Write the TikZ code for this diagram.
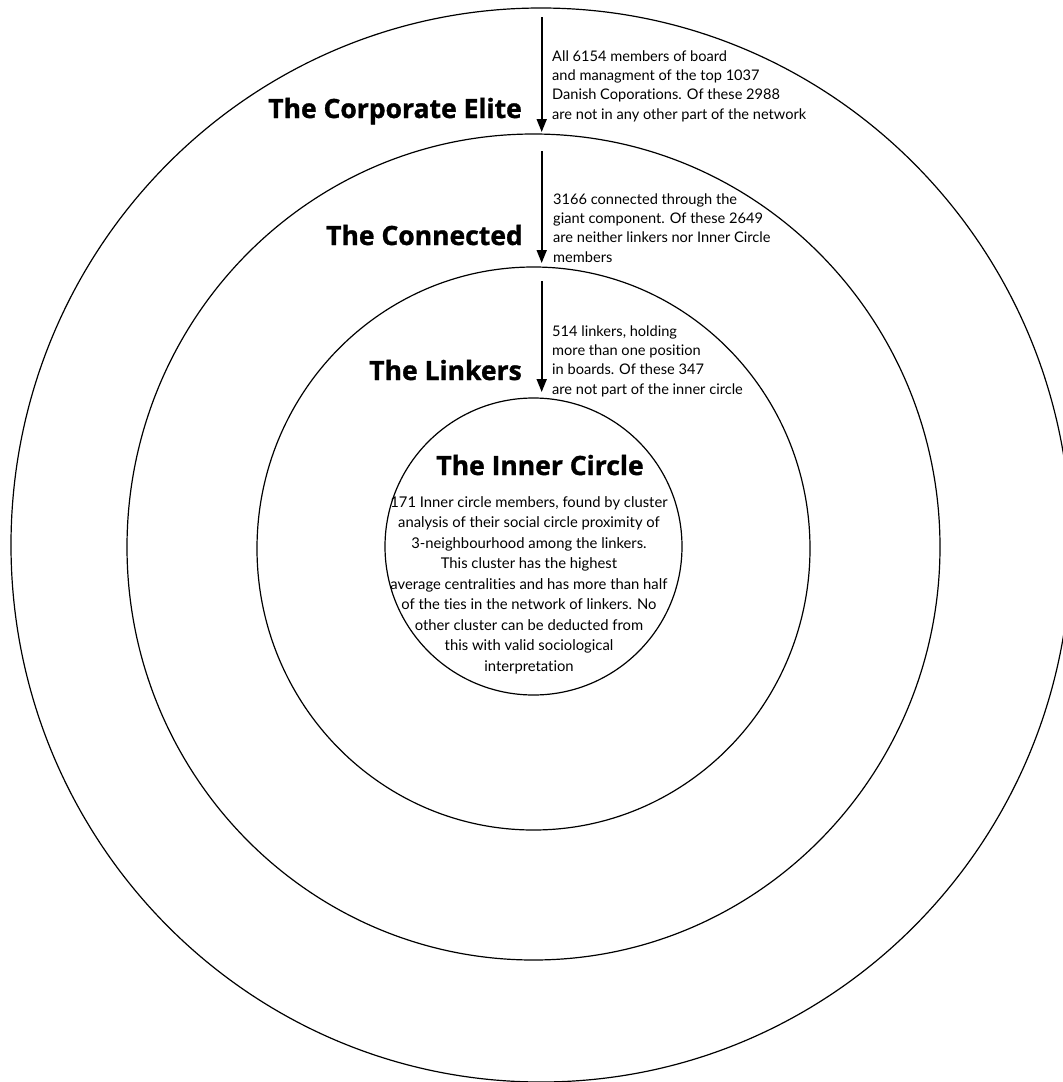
\documentclass[tikz,border=0pt]{standalone}
\usepackage{fontspec}
\setmainfont{Lato}[Ligatures=NoCommon]
\newfontfamily\titlefont{Open Sans}[BoldFeatures={FakeBold=1.2}]
\usepackage{tikz}
\usetikzlibrary{arrows.meta}

\begin{document}
\begin{tikzpicture}[x=1pt, y=-1pt,
	ring/.style={line width=1.2pt},
	flow/.style={line width=1.8pt, -{Triangle[length=13pt, width=10pt]}},
	ringtitle/.style={font=\titlefont\bfseries\fontsize{26.5}{30}\selectfont, inner sep=0pt},
	ringtext/.style={font=\fontsize{14.6}{19.2}\selectfont, align=left, inner sep=0pt},
	innertext/.style={font=\fontsize{14.8}{20.5}\selectfont, align=center, inner sep=0pt}]
	\useasboundingbox (0,0) rectangle (1063,1082);
	\clip (0,0) rectangle (1063,1082);

	% rings, outside in
	\draw[ring] (541,545) ellipse [x radius=530pt, y radius=537pt];
	\draw[ring] (533.5,547) ellipse [x radius=406.5pt, y radius=413pt];
	\draw[ring] (533.5,548.5) ellipse [x radius=276.5pt, y radius=281.5pt];
	\draw[ring] (533.5,546.5) circle [radius=148.5pt];

	% arrows between the rings
	\coordinate (elitetop) at (541.7,17);
	\coordinate (connectedtop) at (541.7,132);
	\coordinate (connectedin) at (541.7,151);
	\coordinate (linkerstop) at (541.7,263);
	\coordinate (linkersin) at (541.7,281);
	\coordinate (innertop) at (541.7,392);
	\draw[flow] (elitetop) -- (connectedtop);
	\draw[flow] (connectedin) -- (linkerstop);
	\draw[flow] (linkersin) -- (innertop);

	% titles
	\node[ringtitle, anchor=base east] (elite) at (522,118) {The Corporate Elite};
	\node[ringtitle, anchor=base east] (connected) at (523,245) {The Connected};
	\node[ringtitle, anchor=base east] (linkers) at (522,380) {The Linkers};
	\node[ringtitle, anchor=base] (inner) at (540,475) {The Inner Circle};

	% texts (base = last line)
	\node[ringtext, anchor=base west] (elitetext) at (552,119) {All 6154 members of board\\and managment of the top 1037\\Danish Coporations. Of these 2988\\are not in any other part of the network};
	\node[ringtext, anchor=base west] (connectedtext) at (553,262) {3166 connected through the\\giant component. Of these 2649\\are neither linkers nor Inner Circle\\members};
	\node[ringtext, anchor=base west] (linkerstext) at (552,394) {514 linkers, holding\\more than one position\\in boards. Of these 347\\are not part of the inner circle};
	\node[innertext, anchor=base] (innertext) at (529,671) {171 Inner circle members, found by cluster\\analysis of their social circle proximity of\\3-neighbourhood among the linkers.\\This cluster has the highest\\average centralities and has more than half\\of the ties in the network of linkers. No\\other cluster can be deducted from\\this with valid sociological\\interpretation};
\end{tikzpicture}
\end{document}
